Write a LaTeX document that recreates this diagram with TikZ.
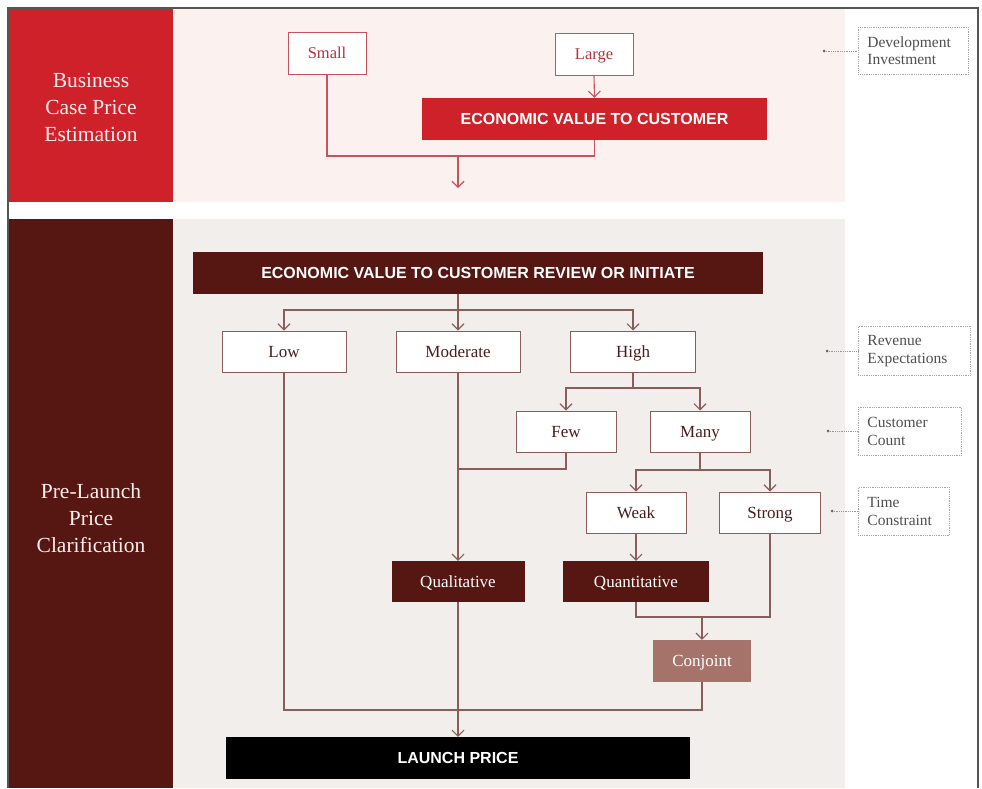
\documentclass[tikz,border=0pt]{standalone}
\usepackage{fontspec}
\setmainfont{Liberation Serif}
\newfontfamily\hsans{Liberation Sans}
\usetikzlibrary{arrows.meta}
\definecolor{bred}{HTML}{CF2129}
\definecolor{pinkbg}{HTML}{FBF1EE}
\definecolor{maroon}{HTML}{561712}
\definecolor{graybg}{HTML}{F2EEEB}
\definecolor{tline}{HTML}{C9535B}
\definecolor{ttext}{HTML}{B0343D}
\definecolor{bline}{HTML}{8A5D5B}
\definecolor{btext}{HTML}{4A1C1A}
\definecolor{conjc}{HTML}{A5736A}
\definecolor{lbltext}{HTML}{4F4F4F}
\definecolor{framec}{HTML}{555555}
\tikzset{
  tbox/.style={draw=tline,line width=1pt,fill=white,text=ttext,inner sep=0pt,
    text height=11.5pt,text depth=0.5pt,font=\fontsize{16.5}{18}\selectfont},
  bbox/.style={draw=bline,line width=1pt,fill=white,text=btext,inner sep=0pt,
    text height=12pt,text depth=0.5pt,font=\fontsize{17}{19}\selectfont},
  dbox/.style={fill=maroon,text=white,inner sep=0pt,
    text height=12pt,text depth=0.5pt,font=\fontsize{17}{19}\selectfont},
  capbox/.style={inner sep=0pt,text=white,font=\hsans\bfseries\fontsize{16}{18}\selectfont},
  tconn/.style={draw=tline,line width=1.1pt},
  bconn/.style={draw=bline,line width=1.1pt},
  tarr/.style={tconn,-{Straight Barb[length=6pt,width=12pt,line width=1.1pt]}},
  barr/.style={bconn,-{Straight Barb[length=6pt,width=12pt,line width=1.1pt]}},
  sidelbl/.style={text=white!93!red,align=center,font=\fontsize{21.5}{27}\selectfont},
  notebox/.style={draw=gray!70,densely dotted,line width=0.8pt,text=lbltext,align=left,
    anchor=north west,inner xsep=9pt,inner ysep=0pt,font=\fontsize{15.5}{17.5}\selectfont},
  notedot/.style={circle,fill=gray!80!black,inner sep=0pt,minimum size=3pt},
  noteline/.style={draw=gray!80,densely dotted,line width=0.8pt},
}
\begin{document}
\begin{tikzpicture}[x=1pt,y=-1pt]
\useasboundingbox (0,0) rectangle (982,788);
\fill[white] (0,0) rectangle (982,788);
% panels
\fill[bred] (9,9) rectangle (173,202);
\fill[pinkbg] (173,9) rectangle (845,202);
\fill[maroon] (9,219) rectangle (173,788);
\fill[graybg] (173,219) rectangle (845,788);
\draw[framec,line width=1.2pt] (8,788) -- (8,8) -- (978,8) -- (978,788);
% side labels
\node[sidelbl] (bcpe) at (91,107) {Business\\Case Price\\Estimation};
\node[sidelbl] (plpc) at (91,518) {Pre-Launch\\Price\\Clarification};
% top section
\node[tbox,minimum width=78pt,minimum height=42pt] (small) at (327,53) {Small};
\node[tbox,minimum width=78pt,minimum height=42pt] (large) at (594,54) {Large};
\node[capbox,fill=bred,minimum width=345pt,minimum height=42pt] (evc) at (594.5,119) {ECONOMIC VALUE TO CUSTOMER};
\coordinate (m1) at (458,156);
\coordinate (m2) at (458,188);
\draw[tarr] (large.south) -- (evc.north);
\draw[tconn] (small.south) |- (m1) -| (evc.south);
\draw[tarr] (m1) -- (m2);
% bottom section
\node[capbox,fill=maroon,minimum width=570pt,minimum height=42pt] (rev) at (478,272.5) {ECONOMIC VALUE TO CUSTOMER REVIEW OR INITIATE};
\node[bbox,minimum width=124pt,minimum height=41pt] (low) at (284,351.5) {Low};
\node[bbox,minimum width=124pt,minimum height=41pt] (mod) at (458,351.5) {Moderate};
\node[bbox,minimum width=125pt,minimum height=41pt] (high) at (633,351.5) {High};
\node[bbox,minimum width=100pt,minimum height=41pt] (few) at (566,431.5) {Few};
\node[bbox,minimum width=100pt,minimum height=41pt] (many) at (700,431.5) {Many};
\node[bbox,minimum width=100pt,minimum height=41pt] (weak) at (636,512.5) {Weak};
\node[bbox,minimum width=101pt,minimum height=41pt] (strong) at (770,512.5) {Strong};
\node[dbox,minimum width=133pt,minimum height=41pt] (qual) at (458,581.5) {Qualitative};
\node[dbox,minimum width=146pt,minimum height=41pt] (quant) at (636,581.5) {Quantitative};
\node[dbox,fill=conjc,minimum width=98pt,minimum height=42pt] (conj) at (702,661) {Conjoint};
\node[capbox,fill=black,minimum width=464pt,minimum height=42pt] (launch) at (458,758) {LAUNCH PRICE};
\coordinate (b0) at (458,310);
\coordinate (b1) at (633,388);
\coordinate (b2) at (700,470);
\coordinate (b3) at (458,469);
\coordinate (b4) at (702,617);
\coordinate (b5) at (458,710);
\draw[bconn] (rev.south -| b0) -- (b0);
\draw[barr] (b0) -| (low.north);
\draw[barr] (b0) -| (high.north);
\draw[barr] (b0) -- (mod.north);
\draw[bconn] (high.south) -- (b1);
\draw[barr] (b1) -| (few.north);
\draw[barr] (b1) -| (many.north);
\draw[bconn] (many.south) -- (b2);
\draw[barr] (b2) -| (weak.north);
\draw[barr] (b2) -| (strong.north);
\draw[bconn] (few.south) |- (b3);
\draw[barr] (mod.south) -- (qual.north);
\draw[barr] (weak.south) -- (quant.north);
\draw[bconn] (quant.south) |- (strong.south |- b4) -- (strong.south);
\draw[barr] (b4) -- (conj.north);
\draw[bconn] (low.south) |- (conj.south |- b5) -- (conj.south);
\draw[barr] (qual.south) -- (launch.north);
% notes
\node[notebox,text width=92pt,minimum height=47pt] (n1) at (858,27) {Development\\Investment};
\node[notebox,text width=94pt,minimum height=49pt] (n2) at (858,326) {Revenue\\Expectations};
\node[notebox,text width=85pt,minimum height=48pt] (n3) at (858,407) {Customer\\Count};
\node[notebox,text width=73pt,minimum height=48pt] (n4) at (858,487) {Time\\Constraint};
\node[notedot] (d1) at (824,51) {};
\node[notedot] (d2) at (827,351) {};
\node[notedot] (d3) at (828,431) {};
\node[notedot] (d4) at (832,511) {};
\draw[noteline] (d1) -- (d1 -| n1.west);
\draw[noteline] (d2) -- (d2 -| n2.west);
\draw[noteline] (d3) -- (d3 -| n3.west);
\draw[noteline] (d4) -- (d4 -| n4.west);
\end{tikzpicture}
\end{document}
